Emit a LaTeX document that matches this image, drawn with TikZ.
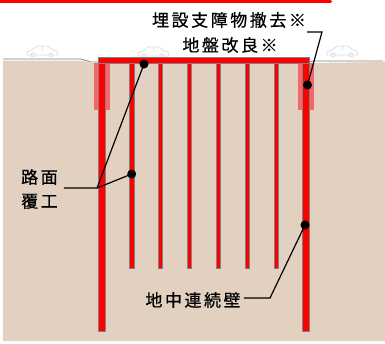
\documentclass[tikz,border=0pt]{standalone}
\usepackage{fontspec}
\usepackage{tikz}
\usepackage{color}
\newfontfamily\jpfont[LetterSpace=15,FakeBold=0.6]{Noto Sans CJK JP}
\definecolor{soil}{RGB}{226,208,193}
\definecolor{lightred}{RGB}{240,104,104}
\definecolor{carline}{RGB}{222,222,222}
\newcommand{\drawcar}[2]{%
  \draw [carline, fill=white, line width=0.8pt, shift={(#1,#2)}]
    (0,9) -- (0,6) -- (5,4) -- (10,0) -- (21,0) -- (26,4) -- (30,5) -- (31,9) -- cycle;
  \draw [carline, line width=0.8pt, shift={(#1,#2)}] (6,9) circle (2) (24,9) circle (2) (15.5,0) -- (15.5,4);
}

\begin{document}
\begin{tikzpicture}[x=1pt,y=-1pt]
				\tikzstyle{every node}+=[inner sep=0pt, font=\jpfont\fontsize{17}{20}\selectfont]
				\tikzstyle{wall}=[fill=red, draw=gray, line width=0.6pt]
				\tikzstyle{leader}=[black, line width=1.2pt]
				\useasboundingbox (0,0) rectangle (385,343);
				\draw [red, line width=3.4pt, line cap=round] (-5,1.2) -- (330.5,1.2);
				\fill [soil] (3,60.5) -- (81,60.5) -- (91,63) -- (310,63) -- (385,62) -- (385,341) -- (3,341) -- cycle;
				\draw [gray, line width=0.8pt] (3,59) -- (81,59) -- (91,62) -- (98,62);
				\draw [gray, line width=0.8pt] (309,62) -- (313,61) -- (383,61);
				\drawcar{27}{46}
				\drawcar{138}{47}
				\drawcar{327}{46}
				\fill [lightred] (94,63) rectangle (110,110);
				\fill [lightred] (298,63) rectangle (314,110);
				\draw [wall] (129.5,60) rectangle (134,268);
				\draw [wall] (158.5,60) rectangle (162.7,268);
				\draw [wall] (187.5,60) rectangle (191.7,268);
				\draw [wall] (216.5,60) rectangle (220.7,268);
				\draw [wall] (245.5,60) rectangle (249.7,268);
				\draw [wall] (274.5,60) rectangle (278.7,268);
				\draw [wall] (98.3,58) rectangle (105,331);
				\draw [wall] (302.3,58) rectangle (309,331);
				\draw [wall] (98.3,57.3) rectangle (309,63.3);
				\node (obst) at (229,20) {埋設支障物撤去※};
				\node (impr) at (230,45) {地盤改良※};
				\node [align=center, font=\jpfont\fontsize{17}{24}\selectfont] (deck) at (39.5,189) {路面\\覆工};
				\node (dwall) at (193,300) {地中連続壁};
				\coordinate (d1) at (144,64);
				\coordinate (d2) at (131.7,174);
				\coordinate (d3) at (307.5,85);
				\coordinate (d4) at (305,225);
				\coordinate (k1) at (97,188);
				\coordinate (k2) at (322,32);
				\coordinate (k3) at (270,298);
				\draw [leader] ([xshift=6pt]deck.east |- k1) -- (k1) -- (d1);
				\draw [leader] (k1) -- (d2);
				\draw [leader] ([xshift=1pt]obst.east |- k2) -- (k2) -- (d3);
				\draw [leader] ([xshift=3pt]dwall.east |- k3) -- (k3) -- (d4);
				\fill (d1) circle (4.5);
				\fill (d2) circle (4.5);
				\fill (d3) circle (4.5);
				\fill (d4) circle (4.5);
				\end{tikzpicture}
\end{document}
